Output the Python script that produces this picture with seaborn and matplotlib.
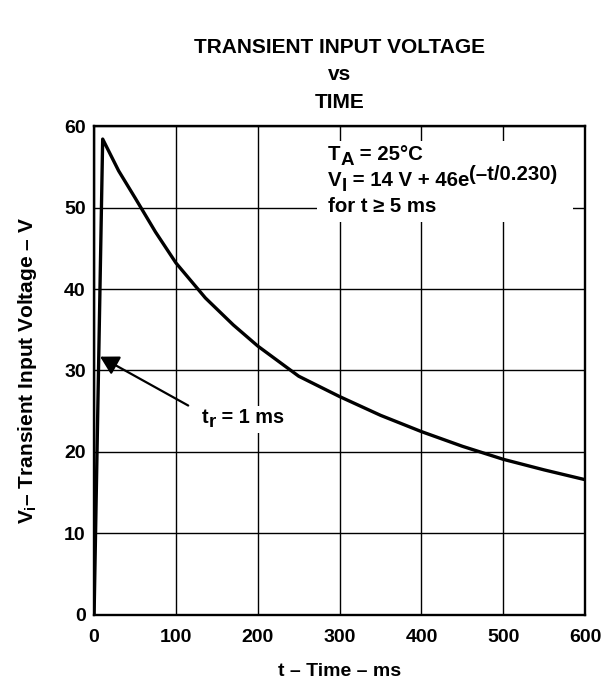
import seaborn as sns
import matplotlib.pyplot as plt
import pandas as pd
from matplotlib.patches import Rectangle
from matplotlib.transforms import Bbox, IdentityTransform

# curve (t in ms, V in volts)
time_ms = [0, 10.5, 30, 50, 75, 100, 136, 170, 200, 250, 300, 350, 400, 450, 500, 550, 600]
voltage = [0, 58.4, 54.5, 51.2, 47.0, 43.2, 38.9, 35.6, 33.0, 29.3, 26.8, 24.5, 22.5, 20.7, 19.1, 17.8, 16.6]

x_ticks = [0, 100, 200, 300, 400, 500, 600]
y_ticks = [0, 10, 20, 30, 40, 50, 60]

# text pieces: (string, size factor, vertical shift in px)
cond_lines = [
    [("T", 1.0, 0), ("A", 0.92, -5), (" = 25°C", 1.0, 0)],
    [("V", 1.0, 0), ("I", 0.92, -5), (" = 14 V + 46e", 1.0, 0), ("(–t/0.230)", 1.0, 6)],
    [("for t ≥ 5 ms", 1.0, 0)],
]
cond_x = 286
cond_y = [55.8, 52.6, 49.4]
tr_pieces = [("t", 1.0, 0), ("r", 0.95, -4), (" = 1 ms", 1.0, 0)]

df = pd.DataFrame({"t": time_ms, "v": voltage})

sns.set_style("white")
plt.rcParams["font.family"] = ["Liberation Sans", "DejaVu Sans"]
plt.rcParams["font.weight"] = "bold"
plt.rcParams["text.color"] = "black"
plt.rcParams["axes.labelcolor"] = "black"
plt.rcParams["xtick.color"] = "black"
plt.rcParams["ytick.color"] = "black"
plt.rcParams["mathtext.fontset"] = "custom"
plt.rcParams["mathtext.rm"] = "Liberation Sans:bold"
plt.rcParams["mathtext.it"] = "Liberation Sans:bold"
plt.rcParams["mathtext.bf"] = "Liberation Sans:bold"

fig = plt.figure(figsize=(6.07, 6.79), dpi=100)
ax = fig.add_axes([0.155, 0.0943, 0.809, 0.7201])

sns.lineplot(data=df, x="t", y="v", color="black", linewidth=2.4, ax=ax, sort=False)

ax.set_xlim(0, 600)
ax.set_ylim(0, 60)
ax.set_xticks(x_ticks)
ax.set_yticks(y_ticks)
ax.tick_params(axis="x", labelsize=14, length=0, pad=10)
ax.tick_params(axis="y", labelsize=14, length=0, pad=6)
for lbl in ax.get_xticklabels() + ax.get_yticklabels():
    lbl.set_fontweight("bold")
ax.grid(True, color="black", linewidth=1.0)
for s in ax.spines.values():
    s.set_color("black")
    s.set_linewidth(1.7)

ax.set_xlabel("t – Time – ms", fontsize=14, fontweight="bold", labelpad=12)
ax.set_ylabel(r"$V_i$– Transient Input Voltage – V", fontsize=15, fontweight="bold", labelpad=18)
ax.set_title("TRANSIENT INPUT VOLTAGE\nvs\nTIME", fontsize=15, fontweight="bold", pad=13, linespacing=1.58)

renderer = fig.canvas.get_renderer()


def rich_line(x, y, pieces, size):
    dx = 0.0
    arts = []
    for s, k, dy in pieces:
        t = ax.annotate(s, xy=(x, y), xytext=(dx, dy), textcoords="offset pixels",
                        fontsize=size * k, fontweight="bold", ha="left", va="baseline", zorder=5)
        dx += t.get_window_extent(renderer).width
        arts.append(t)
    return arts


def white_box(arts, left, right, top, bottom):
    bb = Bbox.union([a.get_window_extent(renderer) for a in arts])
    ax.add_artist(Rectangle((bb.x0 - left, bb.y0 - bottom), bb.width + left + right,
                            bb.height + top + bottom, transform=IdentityTransform(),
                            facecolor="white", edgecolor="none", zorder=4))


cond_arts = []
for pieces, yy in zip(cond_lines, cond_y):
    cond_arts += rich_line(cond_x, yy, pieces, 14.7)
white_box(cond_arts, 11, 15, 4, 6)

tr_arts = rich_line(132, 23.6, tr_pieces, 14.3)
white_box(tr_arts, 3, 3, 2, 2)

ax.annotate("", xy=(7.3, 31.7), xytext=(115, 25.7),
            arrowprops=dict(arrowstyle="-|>,head_length=0.55,head_width=0.31",
                            mutation_scale=20, shrinkA=0, shrinkB=0,
                            color="black", linewidth=1.6))

fig.savefig("out.png", dpi=100)
